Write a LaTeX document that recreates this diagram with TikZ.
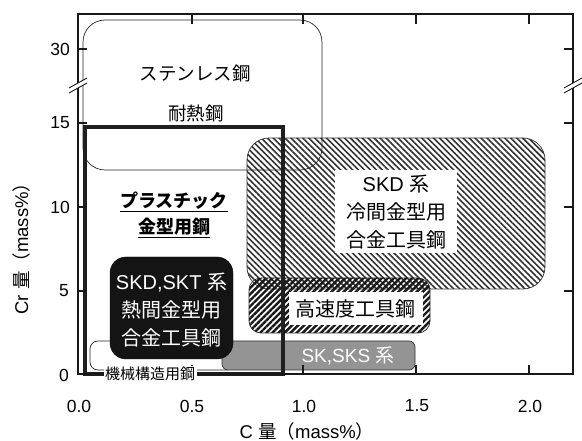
\documentclass[tikz,border=0pt]{standalone}
\usepackage{fontspec}
\setmainfont{Liberation Sans}
\newfontfamily\jp{Noto Sans CJK JP}
\usetikzlibrary{patterns.meta}
\begin{document}
\begin{tikzpicture}[x=1pt,y=-1pt,
  axisline/.style={line width=1.6pt, draw=black!90},
  tickmark/.style={line width=1.6pt, draw=black!90},
  thinbox/.style={draw=black!85, line width=0.7pt},
  plasticbox/.style={draw=black!88, line width=3.3pt},
  coldhatch/.style={draw=black!80, line width=0.7pt, rounded corners=22pt,
     pattern={Lines[angle=-45,distance=4.2pt,line width=1.6pt]}, pattern color=black!80},
  hsshatch/.style={draw=black!85, line width=0.7pt, rounded corners=12pt,
     pattern={Lines[angle=45,distance=4.3pt,line width=2.4pt]}, pattern color=black!90},
  ticklabel/.style={font=\fontsize{17.5}{20}\selectfont, inner sep=0pt},
  jtext/.style={font=\jp\fontsize{20}{28}\selectfont, align=center},
]
\useasboundingbox (0,0) rectangle (582,441);

% SKD cold work (hatched)
\path[coldhatch] (247,138) rectangle (545,289);
% high speed (hatched)
\path[hsshatch] (249,278) rectangle (430,333);
% machine structural steel outline
\draw[thinbox, rounded corners=8pt] (90,341) rectangle (235,370);
% SK,SKS gray box
\draw[draw=black!80, line width=0.7pt, fill=black!42, rounded corners=6pt] (222,341) rectangle (415,370);
% hot work black box
\draw[fill=black!92, draw=black, rounded corners=16pt] (110,257) rectangle (233,359);
% stainless outline
\draw[thinbox, rounded corners=22pt] (83,20) rectangle (322,170);
% plastic mold steel thick box
\draw[plasticbox] (85,374) -- (85,127) -- (283,127) -- (283,374) -- cycle;

% axis frame
\draw[axisline] (78,14) rectangle (573,374);
% ticks
\foreach \yy in {49,123,207,291} {
  \draw[tickmark] (78,\yy) -- (87,\yy);
  \draw[tickmark] (573,\yy) -- (564,\yy);
}
\foreach \xx in {192,303,416,529} {
  \draw[tickmark] (\xx,14) -- (\xx,24);
  \draw[tickmark] (\xx,374) -- (\xx,365);
}
% axis breaks
\foreach \bx in {78,573} {
  \fill[white] (\bx-9,93) -- (\bx+9,83) -- (\bx+9,78) -- (\bx-9,88) -- cycle;
  \draw[line width=0.8pt] (\bx-9,93) -- (\bx+9,83);
  \draw[line width=0.8pt] (\bx-9,88) -- (\bx+9,78);
}

% texts
\node[font=\jp\fontsize{18.5}{20}\selectfont] (stainless) at (195,73) {ステンレス鋼};
\node[font=\jp\fontsize{18.5}{20}\selectfont] (heatres) at (196,113) {耐熱鋼};

\node[font=\jp\bfseries\fontsize{18}{20}\selectfont, inner sep=0pt] (plast1) at (174,201) {プラスチック};
\node[font=\jp\bfseries\fontsize{18}{20}\selectfont, inner sep=0pt] (plast2) at (174,227) {金型用鋼};
\draw[line width=0.9pt] ([yshift=-2pt]plast1.south west) -- ([yshift=-2pt]plast1.south east);
\draw[line width=0.9pt] ([yshift=-2pt]plast2.south west) -- ([yshift=-2pt]plast2.south east);

\node[jtext, fill=white, minimum width=122pt, minimum height=83pt, inner sep=0pt] (cold) at (396,212)
  {\fontspec{Liberation Sans}SKD {\jp 系}\\冷間金型用\\合金工具鋼};
\node[jtext, fill=white, minimum width=134pt, minimum height=33pt, inner sep=0pt] (hss) at (355.5,308.5) {高速度工具鋼};
\node[jtext, text=white, font=\fontsize{19}{22}\selectfont] (sk) at (348,356) {SK,SKS {\jp 系}};
\node[jtext, text=white] (hot) at (171.5,310) {\fontspec{Liberation Sans}SKD,SKT {\jp 系}\\熱間金型用\\合金工具鋼};
\node[font=\jp\fontsize{15}{17}\selectfont, fill=white, inner sep=1.5pt] (mach) at (150,374) {機械構造用鋼};

% tick labels
\node[ticklabel, anchor=east] (y30) at (70,49) {30};
\node[ticklabel, anchor=east] (y15) at (70,123) {15};
\node[ticklabel, anchor=east] (y10) at (70,207) {10};
\node[ticklabel, anchor=east] (y5) at (69,291) {5};
\node[ticklabel, anchor=east] (y0) at (69,375) {0};
\node[ticklabel] (x00) at (79,406) {0.0};
\node[ticklabel] (x05) at (192,406) {0.5};
\node[ticklabel] (x10) at (304,406) {1.0};
\node[ticklabel] (x15) at (417,406) {1.5};
\node[ticklabel] (x20) at (530,406) {2.0};

\node[font=\fontsize{18.5}{20}\selectfont] (xlab) at (307,431) {C {\jp 量（}mass\%{\jp ）}};
\node[font=\fontsize{18.5}{20}\selectfont, rotate=90] (ylab) at (21,244) {Cr {\jp 量（}mass\%{\jp ）}};
\end{tikzpicture}
\end{document}
